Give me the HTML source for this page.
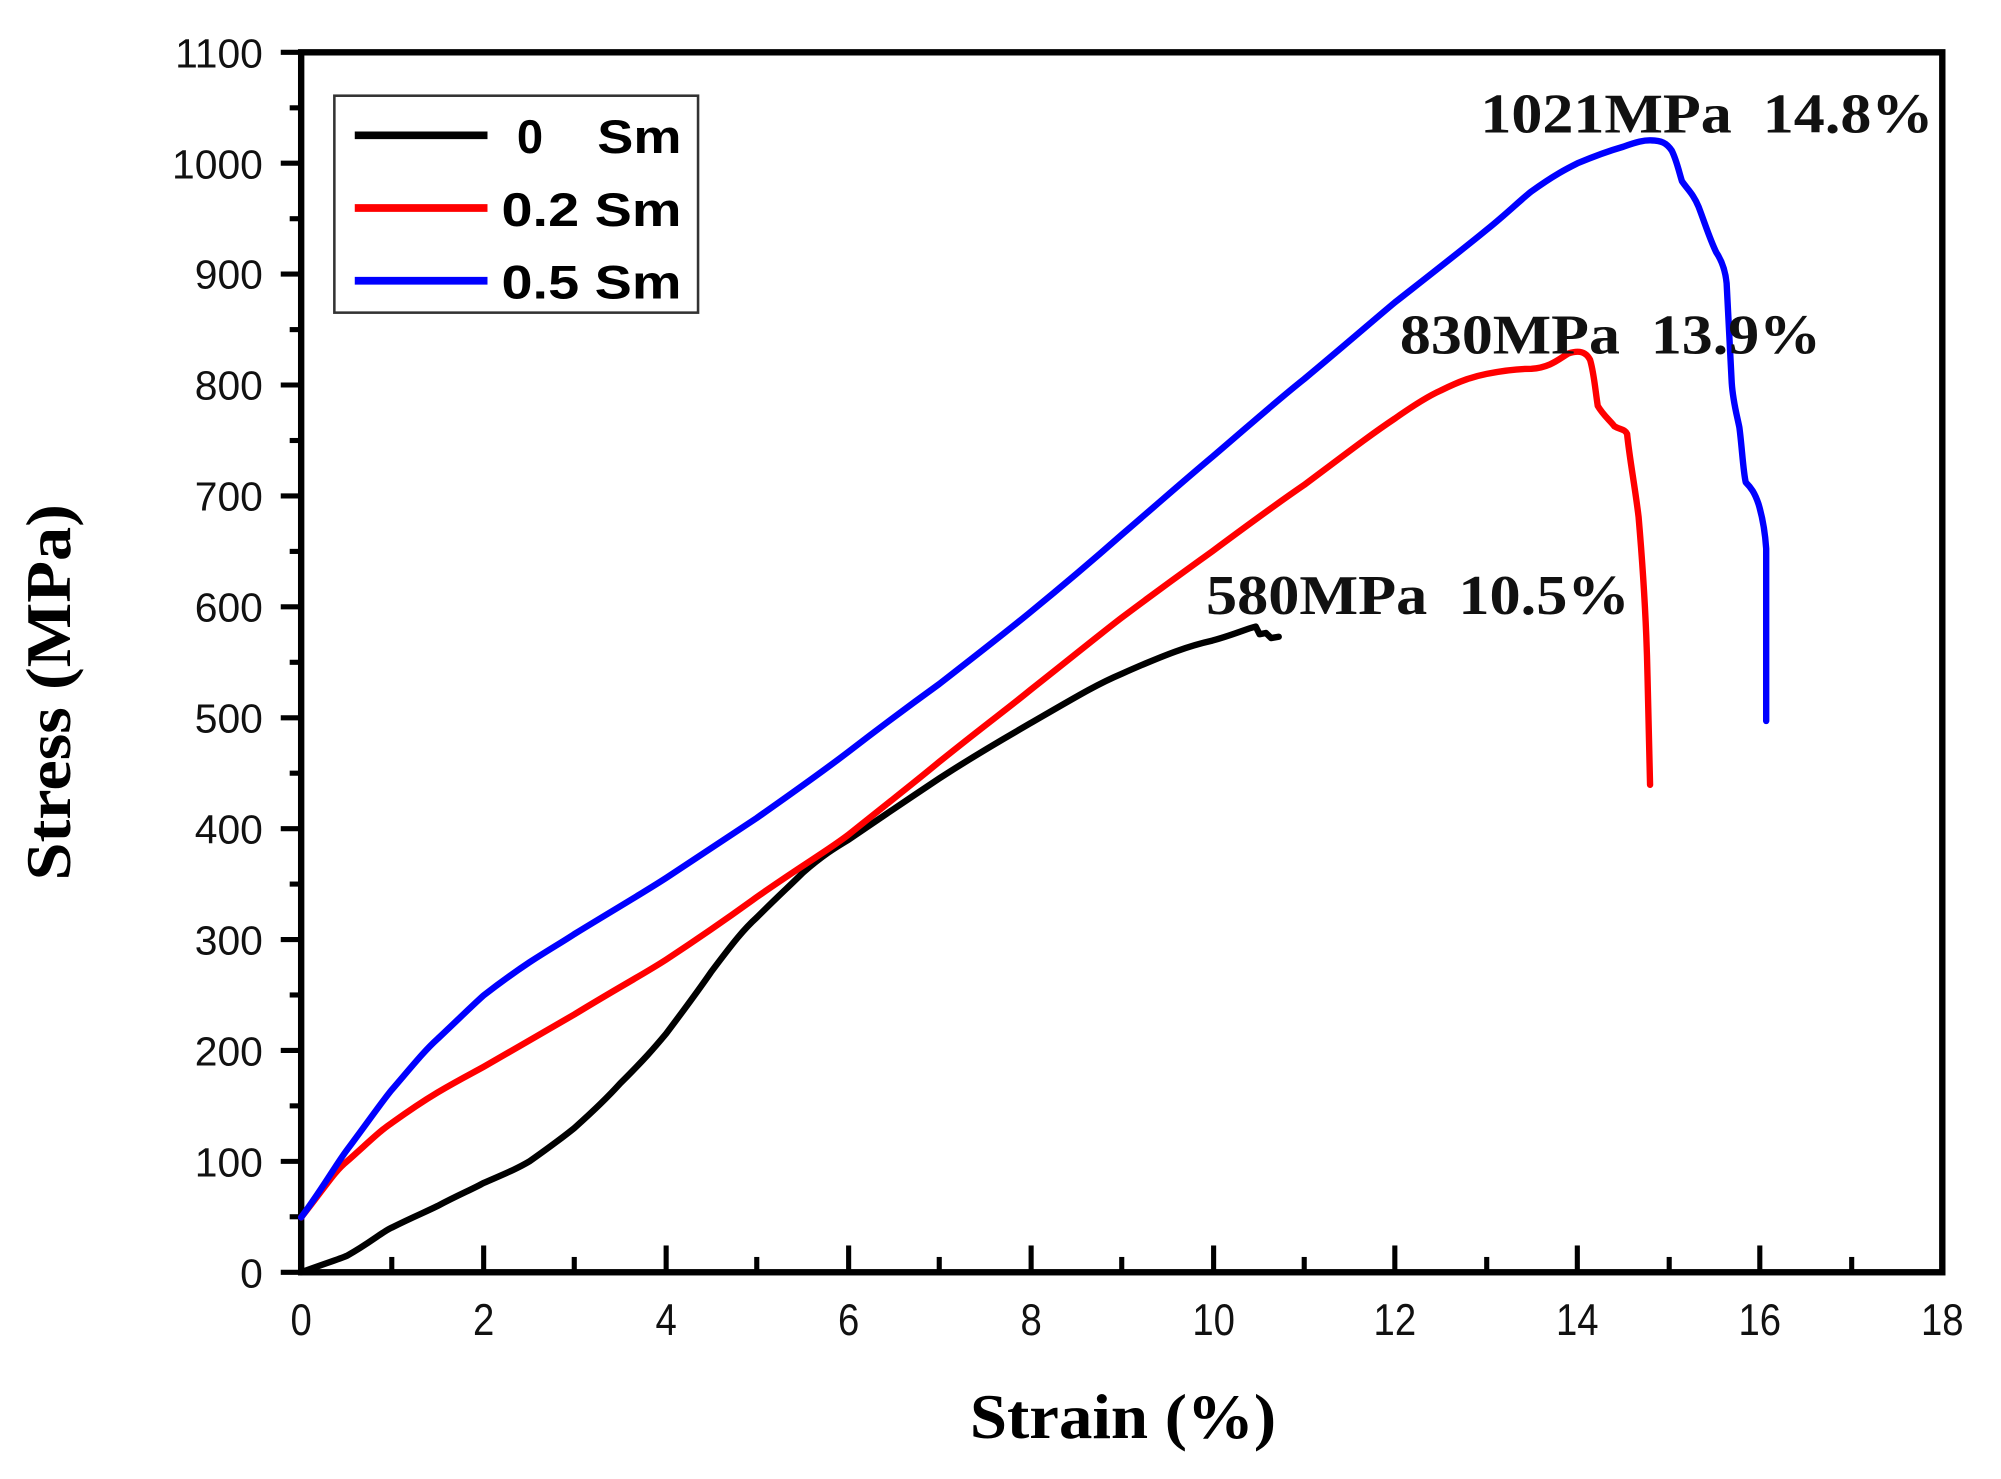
<!DOCTYPE html>
<html><head><style>
html,body{margin:0;padding:0;background:#fff;}
svg{display:block;}
</style></head><body>
<svg width="2001" height="1479" viewBox="0 0 1568 1159" preserveAspectRatio="none" xmlns="http://www.w3.org/2000/svg">
<rect width="1568" height="1159" fill="#fff"/>
<g stroke="#000" stroke-width="4">
<line x1="220" y1="997" x2="236" y2="997"/><line x1="220" y1="910.1" x2="236" y2="910.1"/><line x1="220" y1="823.2" x2="236" y2="823.2"/><line x1="220" y1="736.3" x2="236" y2="736.3"/><line x1="220" y1="649.4" x2="236" y2="649.4"/><line x1="220" y1="562.5" x2="236" y2="562.5"/><line x1="220" y1="475.5" x2="236" y2="475.5"/><line x1="220" y1="388.6" x2="236" y2="388.6"/><line x1="220" y1="301.7" x2="236" y2="301.7"/><line x1="220" y1="214.8" x2="236" y2="214.8"/><line x1="220" y1="127.9" x2="236" y2="127.9"/><line x1="220" y1="41" x2="236" y2="41"/>
<line x1="227" y1="953.5" x2="236" y2="953.5"/><line x1="227" y1="866.6" x2="236" y2="866.6"/><line x1="227" y1="779.7" x2="236" y2="779.7"/><line x1="227" y1="692.8" x2="236" y2="692.8"/><line x1="227" y1="605.9" x2="236" y2="605.9"/><line x1="227" y1="519" x2="236" y2="519"/><line x1="227" y1="432.1" x2="236" y2="432.1"/><line x1="227" y1="345.2" x2="236" y2="345.2"/><line x1="227" y1="258.3" x2="236" y2="258.3"/><line x1="227" y1="171.4" x2="236" y2="171.4"/><line x1="227" y1="84.5" x2="236" y2="84.5"/>
<line x1="379" y1="997" x2="379" y2="976"/><line x1="522" y1="997" x2="522" y2="976"/><line x1="665" y1="997" x2="665" y2="976"/><line x1="808" y1="997" x2="808" y2="976"/><line x1="951" y1="997" x2="951" y2="976"/><line x1="1093" y1="997" x2="1093" y2="976"/><line x1="1236" y1="997" x2="1236" y2="976"/><line x1="1379" y1="997" x2="1379" y2="976"/>
<line x1="307" y1="997" x2="307" y2="985"/><line x1="450" y1="997" x2="450" y2="985"/><line x1="593" y1="997" x2="593" y2="985"/><line x1="736" y1="997" x2="736" y2="985"/><line x1="879" y1="997" x2="879" y2="985"/><line x1="1022" y1="997" x2="1022" y2="985"/><line x1="1165" y1="997" x2="1165" y2="985"/><line x1="1308" y1="997" x2="1308" y2="985"/><line x1="1451" y1="997" x2="1451" y2="985"/>
</g>
<rect x="236" y="41" width="1286" height="956" fill="none" stroke="#000" stroke-width="5"/>
<g font-family="Liberation Sans, sans-serif" font-size="32" text-anchor="end" fill="#111">
<text x="206" y="1009">0</text><text x="206" y="922">100</text><text x="206" y="835">200</text><text x="206" y="748">300</text><text x="206" y="661">400</text><text x="206" y="574">500</text><text x="206" y="487">600</text><text x="206" y="400">700</text><text x="206" y="313">800</text><text x="206" y="226">900</text><text x="206" y="140">1000</text><text x="206" y="53">1100</text>
</g>
<g font-family="Liberation Sans, sans-serif" font-size="30" text-anchor="middle" fill="#111" transform="translate(0,1046) scale(1,1.15)">
<text x="236" y="0">0</text><text x="379" y="0">2</text><text x="522" y="0">4</text><text x="665" y="0">6</text><text x="808" y="0">8</text><text x="951" y="0">10</text><text x="1093" y="0">12</text><text x="1236" y="0">14</text><text x="1379" y="0">16</text><text x="1522" y="0">18</text>
</g>
<text x="760" y="1127" textLength="240" lengthAdjust="spacingAndGlyphs" font-family="Liberation Serif, serif" font-weight="bold" font-size="50">Strain (%)</text>
<text transform="translate(55,690) rotate(-90)" textLength="295" lengthAdjust="spacingAndGlyphs" font-family="Liberation Serif, serif" font-weight="bold" font-size="50">Stress (MPa)</text>
<rect x="262" y="75" width="285" height="170" fill="#fff" stroke="#333" stroke-width="2"/>
<g stroke-width="6">
<line x1="278" y1="106" x2="382" y2="106" stroke="#000"/>
<line x1="278" y1="163" x2="382" y2="163" stroke="#f00"/>
<line x1="278" y1="220" x2="382" y2="220" stroke="#00f"/>
</g>
<g font-family="Liberation Sans, sans-serif" font-weight="bold" font-size="37">
<text x="405" y="120">0</text><text x="468" y="120" textLength="66" lengthAdjust="spacingAndGlyphs">Sm</text>
<text x="393" y="177" textLength="141" lengthAdjust="spacingAndGlyphs">0.2 Sm</text>
<text x="393" y="234" textLength="141" lengthAdjust="spacingAndGlyphs">0.5 Sm</text>
</g>
<g fill="none" stroke-width="5" stroke-linejoin="round" stroke-linecap="round">
<path stroke="#000" d="M236,997 C255,990 265,987 272,984 C290,974 300,965 307,962 C325,953 333,950 343,945 C360,936 370,932 379,927 C395,920 405,916 415,910 C432,898 440,892 450,884 C468,868 477,859 486,849 C505,830 512,822 522,810 C540,786 548,775 557,762 C575,738 583,728 593,719 C610,702 620,693 629,684 C645,670 655,664 665,658 C700,634 718,622 736,610 C770,588 790,577 807,567 C845,545 860,536 879,528 C915,512 932,506 950,502 C968,497 976,493 984,491 L987,497 L992,496 L996,500 L1002,499"/>
<path stroke="#f00" d="M236,954 C255,930 262,918 272,910 C290,894 298,886 307,880 C325,867 333,862 343,856 C360,846 370,841 379,836 C415,815 433,805 450,795 C486,773 505,763 522,752 C560,727 575,716 593,703 C630,677 648,667 665,654 C700,626 718,612 736,597 C772,568 790,555 807,541 C845,511 862,497 879,484 C915,457 932,445 950,432 C985,406 1003,393 1022,380 C1058,353 1075,340 1093,328 C1110,316 1120,310 1129,306 C1145,298 1155,295 1165,293 C1180,290 1190,289 1200,289 C1215,288 1222,281 1229,277 C1238,274 1243,276 1246,282 C1249,292 1250,305 1252,318 C1256,325 1262,330 1265,334 C1270,337 1273,336 1275,340 C1277,360 1281,380 1284,405 C1287,440 1290,480 1291,530 L1293,615"/>
<path stroke="#00f" d="M236,954 C255,928 263,913 272,901 C290,877 298,865 307,854 C325,833 333,823 343,814 C360,798 370,788 379,780 C397,766 406,760 415,754 C432,743 441,738 450,732 C486,710 505,699 522,688 C557,665 575,653 593,641 C630,615 648,602 665,589 C700,562 718,549 736,536 C772,508 790,494 807,480 C845,449 862,434 879,419 C915,388 932,373 950,358 C985,328 1003,312 1022,297 C1058,267 1075,252 1093,237 C1130,208 1148,194 1165,180 C1180,168 1190,158 1200,150 C1218,137 1228,132 1236,128 C1255,120 1265,117 1272,115 C1283,111 1288,110 1293,110 C1302,110 1306,112 1310,118 C1314,126 1316,136 1318,142 C1322,148 1327,152 1331,162 C1336,175 1340,188 1345,198 C1349,204 1352,212 1353,222 C1354,240 1355,260 1357,300 C1358,315 1361,325 1363,335 C1365,350 1366,370 1368,378 C1372,382 1375,386 1378,395 C1381,405 1383,415 1384,430 L1384,565"/>
</g>
<g font-family="Liberation Serif, serif" font-weight="bold" font-size="44" fill="#111">
<text x="1160" y="104" textLength="355" lengthAdjust="spacingAndGlyphs" xml:space="preserve">1021MPa  14.8%</text>
<text x="1097" y="277" textLength="330" lengthAdjust="spacingAndGlyphs" xml:space="preserve">830MPa  13.9%</text>
<text x="945" y="481" textLength="332" lengthAdjust="spacingAndGlyphs" xml:space="preserve">580MPa  10.5%</text>
</g>
</svg>
</body></html>
